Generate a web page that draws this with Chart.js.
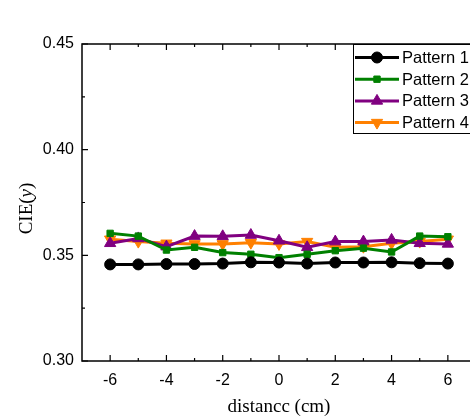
<!DOCTYPE html>
<html>
<head>
<meta charset="utf-8">
<script src="https://cdn.jsdelivr.net/npm/chart.js@4"></script>
<style>
html,body{margin:0;padding:0;background:#fff;overflow:hidden;width:470px;height:418px;}
#wrap{width:490px;height:418px;}
</style>
</head>
<body>
<div id="wrap"><canvas id="c" width="490" height="418"></canvas></div>
<script>
const categories = [-6,-5,-4,-3,-2,-1,0,1,2,3,4,5,6];
const pattern1 = [0.3457,0.3457,0.3459,0.3459,0.3461,0.3467,0.3466,0.3461,0.3466,0.3466,0.3467,0.3463,0.3461];
const pattern2 = [0.3604,0.3591,0.3525,0.3538,0.3513,0.3505,0.3489,0.3505,0.3522,0.3534,0.3516,0.3591,0.3588];
const pattern3 = [0.3557,0.3580,0.3541,0.3591,0.3590,0.3596,0.3569,0.3538,0.3565,0.3565,0.3573,0.3557,0.3554];
const pattern4 = [0.3576,0.3565,0.3557,0.3554,0.3554,0.3560,0.3554,0.3565,0.3538,0.3541,0.3557,0.3565,0.3576];
const seriesLabels = ['Pattern 1','Pattern 2','Pattern 3','Pattern 4'];
const xTicks = [-6,-4,-2,0,2,4,6];
const xMinorTicks = [-5,-3,-1,1,3,5];
const yTicks = [0.30,0.35,0.40,0.45];
const yMinorTicks = [0.325,0.375,0.425];

const colors = ['#000000','#008000','#800080','#ff8000'];
const styles = [
  {pointStyle:'circle', radius:5.5, rot:0},
  {pointStyle:'rect', radius:4.5, rot:0},
  {pointStyle:'triangle', radius:6.5, rot:0},
  {pointStyle:'triangle', radius:6.5, rot:180}
];
const allSeries = [pattern1,pattern2,pattern3,pattern4];

const datasets = allSeries.map((s,i)=>({
  label: seriesLabels[i],
  data: categories.map((x,j)=>({x:x,y:s[j]})),
  borderColor: colors[i],
  backgroundColor: colors[i],
  borderWidth: 3,
  pointStyle: styles[i].pointStyle,
  pointRadius: styles[i].radius,
  pointRotation: styles[i].rot,
  pointBorderWidth: 1,
  tension: 0
}));

const framePlugin = {
  id:'frame',
  beforeDatasetsDraw(chart){
    const ctx = chart.ctx, a = chart.chartArea;
    const xs = chart.scales.x, ys = chart.scales.y;
    ctx.save();
    ctx.strokeStyle = '#000';
    ctx.lineWidth = 1.5;
    ctx.strokeRect(a.left, a.top, a.right-a.left, a.bottom-a.top);
    ctx.lineWidth = 1.2;
    ctx.beginPath();
    xTicks.forEach(v=>{const p=xs.getPixelForValue(v);
      ctx.moveTo(p,a.bottom);ctx.lineTo(p,a.bottom-6);
      ctx.moveTo(p,a.top);ctx.lineTo(p,a.top+6);});
    xMinorTicks.forEach(v=>{const p=xs.getPixelForValue(v);
      ctx.moveTo(p,a.bottom);ctx.lineTo(p,a.bottom-3);
      ctx.moveTo(p,a.top);ctx.lineTo(p,a.top+3);});
    yTicks.forEach(v=>{const p=ys.getPixelForValue(v);
      ctx.moveTo(a.left,p);ctx.lineTo(a.left+6,p);
      ctx.moveTo(a.right,p);ctx.lineTo(a.right-6,p);});
    yMinorTicks.forEach(v=>{const p=ys.getPixelForValue(v);
      ctx.moveTo(a.left,p);ctx.lineTo(a.left+3,p);
      ctx.moveTo(a.right,p);ctx.lineTo(a.right-3,p);});
    ctx.stroke();
    ctx.restore();
  },
  afterDraw(chart){
    const ctx = chart.ctx, a = chart.chartArea;
    ctx.save();
    // y title with italic y
    ctx.translate(32, (a.top+a.bottom)/2 + 6);
    ctx.rotate(-Math.PI/2);
    ctx.fillStyle = '#000';
    ctx.textBaseline = 'alphabetic';
    const f1 = '19px "Liberation Serif", "Times New Roman", serif';
    const f2 = 'italic 19px "Liberation Serif", "Times New Roman", serif';
    const parts = [['CIE(',f1],['y',f2],[')',f1]];
    let total = 0;
    parts.forEach(p=>{ctx.font=p[1]; total += ctx.measureText(p[0]).width;});
    let x = -total/2;
    parts.forEach(p=>{ctx.font=p[1]; ctx.fillText(p[0],x,0); x += ctx.measureText(p[0]).width;});
    ctx.restore();

    // legend
    ctx.save();
    const lx = a.right - 123, ly = a.top;
    ctx.fillStyle = '#fff';
    ctx.fillRect(lx, ly, 200, 89);
    ctx.strokeStyle = '#000';
    ctx.lineWidth = 1;
    ctx.strokeRect(lx+0.5, ly+0.5, 200, 89);
    chart.data.datasets.forEach((ds,i)=>{
      const cy = ly + 13.5 + i*21.7;
      ctx.strokeStyle = ds.borderColor;
      ctx.lineWidth = 3;
      ctx.beginPath(); ctx.moveTo(lx+2, cy); ctx.lineTo(lx+46, cy); ctx.stroke();
      ctx.fillStyle = ds.backgroundColor;
      ctx.strokeStyle = ds.borderColor;
      ctx.lineWidth = 1;
      Chart.helpers.drawPoint(ctx, {pointStyle: ds.pointStyle, radius: ds.pointRadius, rotation: ds.pointRotation, borderWidth:1}, lx+24, cy);
      ctx.fillStyle = '#000';
      ctx.font = '16.5px "Liberation Sans", Arial, sans-serif';
      ctx.textBaseline = 'middle';
      ctx.fillText(ds.label, lx+49, cy+1);
    });
    ctx.restore();
  }
};

new Chart(document.getElementById('c'), {
  type:'line',
  data:{datasets},
  options:{
    responsive:false,
    animation:false,
    layout:{padding:{left:0,top:44,right:14,bottom:0}},
    plugins:{legend:{display:false},tooltip:{enabled:false}},
    scales:{
      x:{
        type:'linear', min:-7, max:7,
        afterBuildTicks(s){ s.ticks = xTicks.map(v=>({value:v})); },
        afterFit(s){ s.height = 57; },
        grid:{display:false, drawTicks:false},
        border:{display:false},
        ticks:{color:'#000', padding:10, maxRotation:0, font:{family:'"Liberation Sans", Arial, sans-serif', size:16}, callback:v=>String(v)},
        title:{display:true, text:'distancc (cm)', color:'#000', padding:{top:0,bottom:0}, font:{family:'"Liberation Serif", "Times New Roman", serif', size:19}}
      },
      y:{
        type:'linear', min:0.30, max:0.45,
        afterBuildTicks(s){ s.ticks = yTicks.map(v=>({value:v})); },
        afterFit(s){ s.width = 82; },
        grid:{display:false, drawTicks:false},
        border:{display:false},
        ticks:{color:'#000', padding:8, font:{family:'"Liberation Sans", Arial, sans-serif', size:16}, callback:v=>v.toFixed(2)}
      }
    }
  },
  plugins:[framePlugin]
});
</script>
</body>
</html>
